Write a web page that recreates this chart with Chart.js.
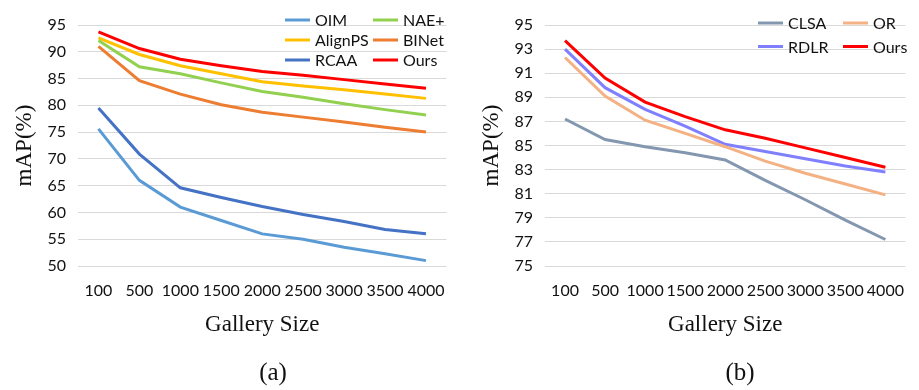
<!DOCTYPE html>
<html>
<head>
<meta charset="utf-8">
<script src="https://cdn.jsdelivr.net/npm/chart.js@4"></script>
<style>
  body { margin: 0; background: #fff; }
  #wrap { position: relative; width: 919px; height: 390px; overflow: hidden; }
  canvas { position: absolute; top: 0; }
  .cap { position: absolute; top: 372px; transform: translate(-50%, -50%);
         font-family: 'Liberation Serif', serif; font-size: 25px; color: #111; white-space: nowrap; }
</style>
</head>
<body>
<div id="wrap">
  <canvas id="c1" width="460" height="390" style="left:0"></canvas>
  <canvas id="c2" width="459" height="390" style="left:460px"></canvas>
  <div class="cap" style="left:273px">(a)</div>
  <div class="cap" style="left:740px">(b)</div>
</div>
<script>
// ---- data ----
const gallerySizes = ['100', '500', '1000', '1500', '2000', '2500', '3000', '3500', '4000'];

// (a)
const oimA     = [75.6, 66.0, 61.0, 58.5, 56.0, 55.0, 53.5, 52.3, 51.0];
const naeA     = [92.1, 87.2, 85.9, 84.2, 82.6, 81.5, 80.3, 79.2, 78.2];
const alignpsA = [92.6, 89.5, 87.4, 85.9, 84.4, 83.6, 82.9, 82.1, 81.3];
const binetA   = [91.0, 84.6, 82.1, 80.1, 78.7, 77.8, 76.9, 75.9, 75.0];
const rcaaA    = [79.5, 70.9, 64.6, 62.8, 61.1, 59.6, 58.3, 56.8, 56.0];
const oursA    = [93.7, 90.6, 88.6, 87.4, 86.3, 85.6, 84.8, 84.0, 83.2];
const yTicksA  = [50, 55, 60, 65, 70, 75, 80, 85, 90, 95];

// (b)
const clsaB = [87.2, 85.5, 84.9, 84.4, 83.8, 82.1, 80.5, 78.8, 77.2];
const orB   = [92.3, 89.1, 87.1, 86.0, 84.9, 83.7, 82.7, 81.8, 80.9];
const rdlrB = [93.0, 89.8, 88.0, 86.6, 85.1, 84.5, 83.9, 83.3, 82.8];
const oursB = [93.7, 90.6, 88.6, 87.4, 86.3, 85.6, 84.8, 84.0, 83.2];
const yTicksB = [75, 77, 79, 81, 83, 85, 87, 89, 91, 93, 95];

// ---- legend drawn in a 2-column grid inside the plot ----
const gridLegend = {
  id: 'gridLegend',
  afterDraw(chart, args, o) {
    const ctx = chart.ctx;
    ctx.save();
    ctx.font = '16px Lato';
    ctx.textBaseline = 'middle';
    ctx.textAlign = 'left';
    chart.data.datasets.forEach((ds, i) => {
      const col = i % 2, row = Math.floor(i / 2);
      const x = o.x + col * o.colW, y = o.y + row * o.rowH;
      ctx.strokeStyle = ds.borderColor;
      ctx.lineWidth = 3;
      ctx.beginPath(); ctx.moveTo(x, y); ctx.lineTo(x + 25, y); ctx.stroke();
      ctx.fillStyle = '#111';
      ctx.fillText(ds.label, x + 30, y + 1);
    });
    ctx.restore();
  }
};

function ds(label, data, color) {
  return { label, data, borderColor: color, backgroundColor: color, borderWidth: 3,
           pointRadius: 0, tension: 0, fill: false };
}

function makeChart(id, datasets, yTicks, opts) {
  return new Chart(document.getElementById(id), {
    type: 'line',
    data: { labels: gallerySizes, datasets },
    plugins: [gridLegend],
    options: {
      responsive: false, animation: false, devicePixelRatio: 1,
      layout: { padding: { left: 0, right: opts.padRight, top: 25, bottom: 0 } },
      plugins: { legend: { display: false }, tooltip: { enabled: false },
                 gridLegend: opts.legend },
      scales: {
        x: {
          type: 'category', offset: true,
          grid: { display: false, drawTicks: false },
          border: { display: false },
          ticks: { autoSkip: false, maxRotation: 0, padding: 15, color: '#111',
                   font: { family: 'Lato', size: 16 } },
          title: { display: true, text: 'Gallery Size', color: '#111',
                   font: { family: 'Liberation Serif', size: 23 },
                   padding: { top: 0, bottom: 51 } },
          afterFit: s => { s.height = 124; }
        },
        y: {
          min: yTicks[0], max: yTicks[yTicks.length - 1],
          afterBuildTicks: s => { s.ticks = yTicks.map(v => ({ value: v })); },
          grid: { color: '#d9d9d9', lineWidth: 1, drawTicks: false },
          border: { display: false },
          ticks: { padding: 12, color: '#111', font: { family: 'Lato', size: 16 } },
          title: { display: true, text: 'mAP(%)', color: '#111',
                   font: { family: 'Liberation Serif', size: 23 },
                   padding: { top: opts.yTitleTop, bottom: 0 } },
          afterFit: s => { s.width = opts.yWidth; }
        }
      }
    }
  });
}

makeChart('c1', [
  ds('OIM', oimA, '#5b9bd5'),
  ds('NAE+', naeA, '#92d050'),
  ds('AlignPS', alignpsA, '#ffc000'),
  ds('BINet', binetA, '#ed7d31'),
  ds('RCAA', rcaaA, '#4472c4'),
  ds('Ours', oursA, '#ff0000')
], yTicksA, { padRight: 8, yWidth: 78, yTitleTop: 11,
              legend: { x: 285, y: 20, colW: 88, rowH: 20 } });

makeChart('c2', [
  ds('CLSA', clsaB, '#8497b0'),
  ds('OR', orB, '#f4b183'),
  ds('RDLR', rdlrB, '#8080ff'),
  ds('Ours', oursB, '#ff0000')
], yTicksB, { padRight: 1, yWidth: 85, yTitleTop: 18,
              legend: { x: 298, y: 23, colW: 85, rowH: 23.5 } });
</script>
</body>
</html>
